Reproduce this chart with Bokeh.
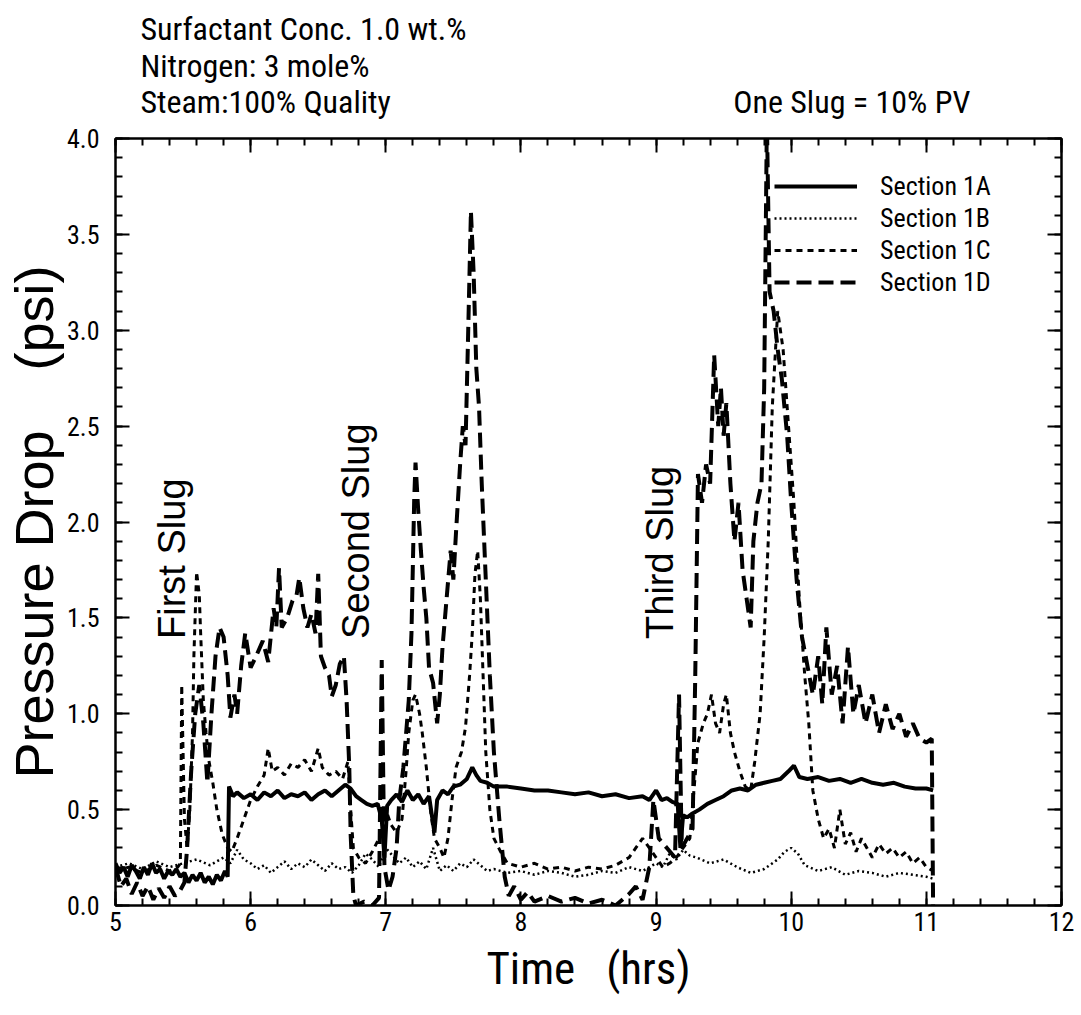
from bokeh.plotting import figure
from bokeh.layouts import column
from bokeh.models import (Range1d, LinearAxis, FixedTicker, Label, Legend,
                          LegendItem, PrintfTickFormatter)
from bokeh.core.properties import value
from bokeh.embed import file_html
from bokeh.resources import INLINE

# ---------------- data ----------------
x_1a = [5.00, 5.03, 5.06, 5.09, 5.12, 5.15, 5.18, 5.21, 5.24, 5.27, 5.30, 5.33, 5.36, 5.39,
        5.42, 5.45, 5.48, 5.51, 5.54, 5.57, 5.60, 5.63, 5.66, 5.69, 5.72, 5.75, 5.78, 5.81,
        5.83, 5.84, 5.87, 5.90, 5.95, 6.00, 6.05, 6.10, 6.15, 6.20, 6.25, 6.30, 6.35, 6.40,
        6.45, 6.50, 6.55, 6.60, 6.65, 6.70, 6.74, 6.78, 6.82, 6.86, 6.90, 6.94, 6.97, 6.99,
        7.01, 7.04, 7.08, 7.12, 7.16, 7.20, 7.24, 7.28, 7.32, 7.36, 7.38, 7.42, 7.46, 7.50,
        7.55, 7.60, 7.64, 7.67, 7.70, 7.75, 7.80, 7.90, 8.00, 8.10, 8.20, 8.30, 8.40, 8.50,
        8.60, 8.70, 8.80, 8.90, 8.95, 9.00, 9.04, 9.08, 9.12, 9.16, 9.18, 9.20, 9.23, 9.27,
        9.32, 9.38, 9.44, 9.50, 9.56, 9.62, 9.68, 9.74, 9.80, 9.86, 9.92, 9.98, 10.02, 10.06,
        10.12, 10.20, 10.28, 10.36, 10.44, 10.52, 10.60, 10.68, 10.76, 10.84, 10.92, 11.00, 11.05]
y_1a = [0.22, 0.17, 0.20, 0.15, 0.21, 0.18, 0.14, 0.20, 0.16, 0.22, 0.17, 0.19, 0.14, 0.18,
        0.16, 0.19, 0.15, 0.17, 0.12, 0.16, 0.13, 0.17, 0.12, 0.15, 0.11, 0.16, 0.13, 0.18,
        0.15, 0.62, 0.57, 0.59, 0.56, 0.58, 0.55, 0.59, 0.57, 0.60, 0.56, 0.58, 0.57, 0.59,
        0.55, 0.58, 0.60, 0.57, 0.60, 0.63, 0.61, 0.57, 0.55, 0.53, 0.52, 0.53, 0.45, 0.25,
        0.52, 0.55, 0.58, 0.54, 0.60, 0.55, 0.58, 0.53, 0.57, 0.38, 0.55, 0.60, 0.58, 0.62,
        0.63, 0.66, 0.72, 0.68, 0.65, 0.64, 0.62, 0.62, 0.61, 0.60, 0.60, 0.59, 0.58, 0.59,
        0.57, 0.58, 0.56, 0.57, 0.55, 0.60, 0.55, 0.56, 0.54, 0.53, 0.30, 0.47, 0.46, 0.48,
        0.50, 0.53, 0.55, 0.57, 0.60, 0.61, 0.60, 0.63, 0.64, 0.65, 0.66, 0.70, 0.73, 0.67,
        0.66, 0.67, 0.65, 0.66, 0.64, 0.66, 0.64, 0.63, 0.64, 0.62, 0.61, 0.61, 0.60]

x_1b = [5.00, 5.10, 5.20, 5.30, 5.40, 5.50, 5.60, 5.70, 5.80, 5.85, 5.90, 5.95, 6.00, 6.05,
        6.10, 6.15, 6.20, 6.25, 6.30, 6.35, 6.40, 6.45, 6.50, 6.55, 6.60, 6.65, 6.70, 6.75,
        6.80, 6.85, 6.90, 6.95, 7.00, 7.05, 7.10, 7.15, 7.20, 7.25, 7.30, 7.35, 7.40, 7.45,
        7.50, 7.55, 7.60, 7.65, 7.70, 7.75, 7.80, 7.90, 8.00, 8.10, 8.20, 8.30, 8.40, 8.50,
        8.60, 8.70, 8.80, 8.90, 9.00, 9.05, 9.10, 9.15, 9.20, 9.25, 9.30, 9.40, 9.50, 9.60,
        9.70, 9.80, 9.90, 9.95, 10.00, 10.05, 10.10, 10.20, 10.30, 10.40, 10.50, 10.60, 10.70,
        10.80, 10.90, 11.00, 11.05]
y_1b = [0.20, 0.22, 0.19, 0.23, 0.20, 0.22, 0.24, 0.21, 0.25, 0.22, 0.29, 0.24, 0.22, 0.19,
        0.21, 0.17, 0.20, 0.23, 0.19, 0.22, 0.20, 0.24, 0.21, 0.18, 0.22, 0.19, 0.20, 0.17,
        0.21, 0.27, 0.24, 0.20, 0.30, 0.26, 0.22, 0.25, 0.20, 0.23, 0.19, 0.30, 0.18, 0.21,
        0.18, 0.22, 0.20, 0.24, 0.21, 0.18, 0.19, 0.17, 0.18, 0.16, 0.18, 0.17, 0.15, 0.16,
        0.18, 0.17, 0.20, 0.18, 0.22, 0.20, 0.27, 0.24, 0.29, 0.26, 0.25, 0.22, 0.24, 0.20,
        0.17, 0.19, 0.24, 0.28, 0.30, 0.27, 0.21, 0.18, 0.20, 0.16, 0.18, 0.17, 0.15, 0.17,
        0.16, 0.15, 0.14]

x_1c = [5.00, 5.10, 5.20, 5.30, 5.40, 5.46, 5.48, 5.49, 5.51, 5.53, 5.55, 5.57, 5.58, 5.60,
        5.62, 5.63, 5.65, 5.67, 5.69, 5.72, 5.75, 5.79, 5.83, 5.86, 5.90, 5.95, 6.00, 6.05,
        6.10, 6.13, 6.16, 6.20, 6.25, 6.30, 6.35, 6.40, 6.45, 6.50, 6.53, 6.58, 6.63, 6.68,
        6.72, 6.74, 6.76, 6.80, 6.85, 6.90, 6.95, 7.00, 7.04, 7.08, 7.12, 7.15, 7.17, 7.20,
        7.22, 7.25, 7.27, 7.30, 7.33, 7.36, 7.40, 7.43, 7.46, 7.49, 7.52, 7.56, 7.59, 7.62,
        7.64, 7.66, 7.68, 7.70, 7.72, 7.74, 7.77, 7.80, 7.85, 7.90, 8.00, 8.10, 8.20, 8.30,
        8.40, 8.50, 8.60, 8.70, 8.80, 8.85, 8.90, 8.95, 9.00, 9.05, 9.10, 9.15, 9.20, 9.25,
        9.28, 9.31, 9.35, 9.38, 9.41, 9.44, 9.47, 9.50, 9.52, 9.55, 9.58, 9.62, 9.66, 9.70,
        9.73, 9.77, 9.80, 9.83, 9.86, 9.90, 9.94, 9.98, 10.02, 10.06, 10.10, 10.13, 10.16,
        10.20, 10.24, 10.28, 10.32, 10.36, 10.40, 10.44, 10.48, 10.52, 10.56, 10.60, 10.65,
        10.70, 10.75, 10.80, 10.85, 10.90, 10.95, 11.00, 11.05]
y_1c = [0.18, 0.20, 0.17, 0.21, 0.18, 0.20, 0.22, 1.15, 0.45, 0.30, 0.50, 0.90, 1.30, 1.74,
        1.62, 1.42, 1.07, 0.90, 0.76, 0.64, 0.50, 0.37, 0.30, 0.28, 0.35, 0.45, 0.55, 0.62,
        0.68, 0.82, 0.70, 0.72, 0.68, 0.74, 0.72, 0.76, 0.70, 0.82, 0.72, 0.68, 0.70, 0.66,
        0.75, 0.50, 0.30, 0.25, 0.22, 0.28, 0.35, 0.50, 0.42, 0.38, 0.45, 0.70, 0.90, 1.07,
        1.10, 1.00, 0.90, 0.72, 0.50, 0.35, 0.30, 0.25, 0.35, 0.55, 0.72, 0.80, 0.93, 1.20,
        1.42, 1.73, 1.85, 1.60, 1.20, 0.80, 0.50, 0.35, 0.28, 0.22, 0.20, 0.22, 0.19, 0.20,
        0.18, 0.20, 0.19, 0.21, 0.25, 0.30, 0.35, 0.30, 0.25, 0.20, 0.22, 0.25, 0.30, 0.35,
        0.60, 0.85, 0.95, 1.00, 1.10, 0.95, 0.90, 1.05, 1.10, 0.90, 0.80, 0.70, 0.62, 0.60,
        0.75, 1.00, 1.40, 1.90, 2.60, 3.10, 2.90, 2.50, 2.10, 1.60, 1.20, 0.95, 0.60,
        0.45, 0.35, 0.40, 0.30, 0.50, 0.32, 0.38, 0.28, 0.35, 0.30, 0.25, 0.32,
        0.27, 0.30, 0.25, 0.28, 0.22, 0.25, 0.20, 0.18]

x_1d = [5.00, 5.04, 5.08, 5.12, 5.16, 5.20, 5.24, 5.28, 5.32, 5.36, 5.40, 5.44, 5.48, 5.51,
        5.53, 5.56, 5.59, 5.62, 5.65, 5.68, 5.71, 5.74, 5.77, 5.80, 5.83, 5.85, 5.88, 5.90,
        5.93, 5.96, 6.00, 6.04, 6.09, 6.13, 6.17, 6.19, 6.21, 6.23, 6.27, 6.31, 6.34, 6.36,
        6.39, 6.42, 6.45, 6.48, 6.50, 6.52, 6.55, 6.58, 6.60, 6.63, 6.66, 6.69, 6.71, 6.73,
        6.74, 6.76, 6.78, 6.84, 6.90, 6.95, 6.97, 6.99, 7.02, 7.05, 7.08, 7.10, 7.13, 7.17,
        7.19, 7.20, 7.21, 7.22, 7.24, 7.26, 7.28, 7.30, 7.32, 7.35, 7.38, 7.40, 7.42, 7.45,
        7.48, 7.50, 7.52, 7.55, 7.57, 7.59, 7.61, 7.63, 7.65, 7.67, 7.69, 7.71, 7.74, 7.77,
        7.80, 7.84, 7.88, 7.91, 7.95, 8.00, 8.05, 8.10, 8.20, 8.30, 8.40, 8.50, 8.60, 8.70,
        8.80, 8.85, 8.90, 8.95, 8.98, 9.02, 9.08, 9.14, 9.17, 9.19, 9.23, 9.27, 9.29, 9.31,
        9.34, 9.37, 9.40, 9.43, 9.46, 9.48, 9.50, 9.52, 9.55, 9.58, 9.61, 9.64, 9.67, 9.70,
        9.72, 9.75, 9.78, 9.80, 9.82, 9.84, 9.87, 9.90, 9.93, 9.97, 10.00, 10.04, 10.08,
        10.12, 10.16, 10.20, 10.23, 10.26, 10.30, 10.34, 10.38, 10.42, 10.46, 10.50, 10.55,
        10.60, 10.65, 10.70, 10.75, 10.80, 10.85, 10.90, 10.95, 11.00, 11.04, 11.05]
y_1d = [0.20, 0.10, 0.14, 0.06, 0.12, 0.05, 0.10, 0.03, 0.09, 0.04, 0.10, 0.05, 0.08, 0.12,
        0.30, 0.70, 1.00, 1.15, 0.95, 0.64, 1.00, 1.30, 1.45, 1.40, 1.20, 0.98, 1.10, 1.00,
        1.25, 1.42, 1.24, 1.30, 1.38, 1.27, 1.55, 1.45, 1.76, 1.45, 1.50, 1.59, 1.62, 1.71,
        1.55, 1.45, 1.52, 1.42, 1.73, 1.30, 1.24, 1.20, 1.09, 1.15, 1.26, 1.30, 1.07, 0.72,
        0.37, 0.05, 0.00, 0.02, 0.00, 0.04, 1.28, 0.20, 0.08, 0.15, 0.30, 0.55, 0.72, 1.07,
        1.42, 1.76, 2.11, 2.31, 2.06, 1.85, 1.66, 1.50, 1.24, 1.16, 0.95, 1.10, 1.35, 1.60,
        1.85, 1.70, 1.95, 2.30, 2.50, 2.40, 3.00, 3.62, 3.30, 2.80, 2.60, 2.20, 1.70, 1.20,
        0.80, 0.45, 0.15, 0.05, 0.10, 0.03, 0.07, 0.02, 0.05, 0.02, 0.04, 0.01, 0.03, 0.00,
        0.06, 0.10, 0.03, 0.20, 0.55, 0.35, 0.30, 0.25, 1.10, 0.30, 0.35, 0.40, 1.20, 2.25,
        2.10, 2.30, 2.20, 2.87, 2.50, 2.70, 2.45, 2.62, 2.20, 1.90, 2.10, 1.75, 1.60, 1.45,
        1.90, 2.10, 2.20, 2.70, 4.10, 3.20, 3.10, 2.90, 2.75, 2.45, 2.10, 1.70, 1.40,
        1.25, 1.10, 1.30, 1.05, 1.45, 1.10, 1.25, 0.95, 1.35, 1.00, 1.15, 0.95,
        1.10, 0.90, 1.05, 0.92, 1.00, 0.88, 0.95, 0.87, 0.85, 0.87, 0.00]

series_names = ["Section 1A", "Section 1B", "Section 1C", "Section 1D"]
x_ticks = [5, 6, 7, 8, 9, 10, 11, 12]
y_ticks = [0.0, 0.5, 1.0, 1.5, 2.0, 2.5, 3.0, 3.5, 4.0]
slug_labels = ["First Slug", "Second Slug", "Third Slug"]
slug_x = [5.42, 6.78, 9.03]
slug_y = [1.39, 1.39, 1.39]
notes = ["Surfactant Conc. 1.0 wt.%", "Nitrogen: 3 mole%", "Steam:100% Quality",
         "One Slug = 10% PV"]

FONT = "Liberation Sans"
NARROW = "Roboto Condensed"
TOP_H = 123
LEFT, RIGHT = 113, 20

# ---------------- header strip with the notes ----------------
head = figure(width=1081, height=TOP_H, output_backend="svg", toolbar_location=None,
              title_location=None,
              x_range=Range1d(LEFT, 1081 - RIGHT), y_range=Range1d(TOP_H, 0),
              x_axis_location=None, y_axis_location=None,
              min_border_left=LEFT, min_border_right=RIGHT,
              min_border_top=0, min_border_bottom=0,
              outline_line_color=None, background_fill_color="white",
              border_fill_color="white")
head.grid.visible = False
note_px = [138, 138, 138, 732]
note_py = [28, 65, 101, 101]
head.text(x=note_px, y=note_py, text=notes, text_font=value(NARROW),
          text_font_size="32px", text_baseline="alphabetic",
          text_align="left", text_color="black")

# ---------------- main chart ----------------
p = figure(width=1081, height=1015 - TOP_H, output_backend="svg", toolbar_location=None,
           title_location=None,
           x_range=Range1d(5, 12), y_range=Range1d(0, 4),
           min_border_left=LEFT, min_border_right=RIGHT, min_border_top=138 - TOP_H,
           min_border_bottom=110, background_fill_color="white",
           border_fill_color="white", outline_line_color="black",
           outline_line_width=2)
p.grid.visible = False

x_minor = [5 + 0.2 * i for i in range(36)]
y_minor = [0.1 * i for i in range(41)]

def style_axis(ax, show_labels):
    ax.axis_line_width = 2
    ax.axis_line_color = "black"
    ax.major_tick_in = 14
    ax.major_tick_out = 0
    ax.minor_tick_in = 7
    ax.minor_tick_out = 0
    ax.major_tick_line_width = 2
    ax.minor_tick_line_width = 2
    if show_labels:
        ax.major_label_text_font = NARROW
        ax.major_label_text_font_size = "26px"
        ax.major_label_text_color = "black"
    else:
        ax.major_label_text_font_size = "0px"
        ax.major_label_text_color = None
        ax.major_label_text_alpha = 0
        ax.major_label_standoff = 0

xax = p.xaxis[0]
xax.ticker = FixedTicker(ticks=x_ticks, minor_ticks=x_minor)
style_axis(xax, True)
xax.major_label_standoff = 6
xax.axis_label = "Time\u00a0\u00a0 (hrs)"
xax.axis_label_text_font = NARROW
xax.axis_label_text_font_size = "45px"
xax.axis_label_text_font_style = "normal"
xax.axis_label_text_color = "black"
xax.axis_label_standoff = 8

yax = p.yaxis[0]
yax.ticker = FixedTicker(ticks=y_ticks, minor_ticks=y_minor)
yax.formatter = PrintfTickFormatter(format="%.1f")
style_axis(yax, True)
yax.major_label_standoff = 16
yax.axis_label = "Pressure Drop\u00a0\u00a0\u00a0 (psi)"
yax.axis_label_text_font = FONT
yax.axis_label_text_font_size = "54px"
yax.axis_label_text_font_style = "normal"
yax.axis_label_text_color = "black"
yax.axis_label_standoff = 0

top_ax = LinearAxis(ticker=FixedTicker(ticks=x_ticks, minor_ticks=x_minor))
style_axis(top_ax, False)
p.add_layout(top_ax, "above")
right_ax = LinearAxis(ticker=FixedTicker(ticks=y_ticks, minor_ticks=y_minor))
style_axis(right_ax, False)
p.add_layout(right_ax, "right")

# ---------------- series ----------------
r1a = p.line(x_1a, y_1a, line_color="black", line_width=4)
r1b = p.line(x_1b, y_1b, line_color="black", line_width=2.5, line_dash="2 3")
r1c = p.line(x_1c, y_1c, line_color="black", line_width=3, line_dash="6 5")
r1d = p.line(x_1d, y_1d, line_color="black", line_width=4, line_dash="15 7")

legend = Legend(items=[LegendItem(label=n, renderers=[r]) for n, r in
                       zip(series_names, [r1a, r1b, r1c, r1d])],
                location=(659, 608), padding=0, margin=0, spacing=2,
                glyph_width=83, glyph_height=22, label_height=22,
                label_standoff=23, label_text_font=NARROW,
                label_text_font_size="26px", label_text_color="black",
                border_line_color=None, background_fill_alpha=0)
p.add_layout(legend)

for t, sx, sy in zip(slug_labels, slug_x, slug_y):
    p.add_layout(Label(x=sx, y=sy, text=t, angle=90, angle_units="deg",
                       text_font=FONT, text_font_size="38px",
                       text_baseline="middle", text_align="left",
                       text_color="black"))

open("out.html", "w").write(file_html(column(head, p, spacing=0), INLINE))
